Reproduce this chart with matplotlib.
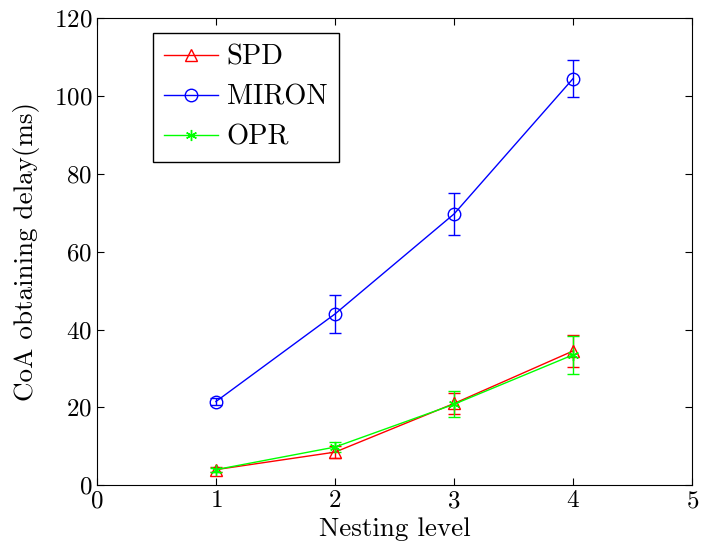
import matplotlib.pyplot as plt
from matplotlib.lines import Line2D

levels = [1, 2, 3, 4]
spd = [4.0, 8.5, 21.0, 34.5]
spd_err = [0.6, 1.5, 2.8, 4.0]
miron = [21.5, 44.0, 69.7, 104.5]
miron_err = [0.8, 5.0, 5.3, 4.8]
opr = [4.0, 9.8, 20.8, 33.5]
opr_err = [0.5, 1.3, 3.3, 4.8]

plt.rcParams['font.family'] = ['cmr10', 'DejaVu Serif']
plt.rcParams['axes.formatter.use_mathtext'] = True

fig = plt.figure(figsize=(7.02, 5.52), dpi=100)
ax = fig.add_axes([0.138, 0.121, 0.848, 0.846])

# asterisk marker like matlab's '*'
star = (6, 2, 0)
styles = [
    ('SPD', spd, spd_err, '#ff0000', '^', 9),
    ('MIRON', miron, miron_err, '#0000ff', 'o', 9),
    ('OPR', opr, opr_err, '#00ff00', star, 8),
]
handles = []
for name, vals, err, col, mk, ms in styles:
    ax.errorbar(levels, vals, yerr=err, color=col, marker=mk, ms=ms, mfc='none',
                mec=col, lw=1, capsize=4, elinewidth=1)
    handles.append(Line2D([], [], color=col, marker=mk, ms=ms, mfc='none', mec=col,
                          lw=1, label=name))

ax.set_xlim(0, 5)
ax.set_ylim(0, 120)
ax.set_xticks(range(0, 6))
ax.set_yticks(range(0, 121, 20))
ax.tick_params(direction='in', labelsize=18, top=True, right=True, length=5)
ax.set_xlabel('Nesting level', fontsize=19.5, labelpad=4)
ax.set_ylabel('CoA obtaining delay(ms)', fontsize=19.5, labelpad=10)

leg = ax.legend(handles=handles, loc='upper left', bbox_to_anchor=(0.094, 0.968),
                borderaxespad=0, fontsize=20.5, fancybox=False, edgecolor='black',
                framealpha=1, handlelength=1.9, borderpad=0.4, labelspacing=0.48,
                handletextpad=0.3)
leg.get_frame().set_linewidth(1)

fig.savefig('out.png', dpi=100)
